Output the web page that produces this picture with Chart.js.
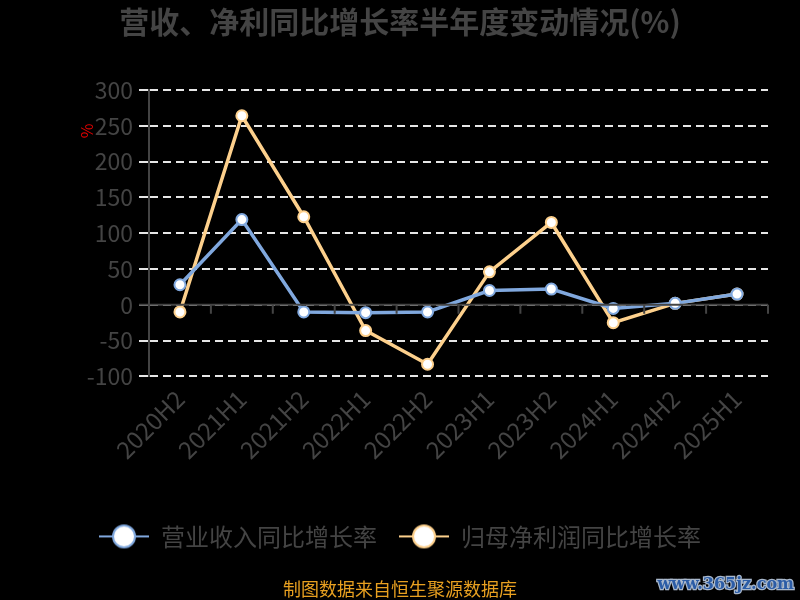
<!DOCTYPE html>
<html>
<head>
<meta charset="utf-8">
<script src="https://cdn.jsdelivr.net/npm/chart.js@4/dist/chart.umd.min.js"></script>
<style>
  html, body { margin: 0; padding: 0; background: #000; }
  #wrap { width: 800px; height: 600px; }
</style>
</head>
<body>
<div id="wrap"><canvas id="chart" width="800" height="600"></canvas></div>
<script>
// data
const periods = ['2020H2', '2021H1', '2021H2', '2022H1', '2022H2', '2023H1', '2023H2', '2024H1', '2024H2', '2025H1'];
const revenueGrowth = [28, 119, -10, -11, -10, 20, 22, -5, 2, 15];
const profitGrowth = [-10, 264, 123, -36, -83, 46, 115, -25, 2, 15];
const yTicks = [-100, -50, 0, 50, 100, 150, 200, 250, 300];

const BLUE = '#80a8de';
const ORANGE = '#fdd08c';
const GREY = '#444';
const FONT = '"Noto Sans CJK SC", "Noto Sans", sans-serif';

// legend marker: short line with a big hollow circle
function legendMarker(color) {
  const c = document.createElement('canvas');
  c.width = 50; c.height = 26;
  const g = c.getContext('2d');
  g.strokeStyle = color;
  g.lineWidth = 2;
  g.beginPath(); g.moveTo(0, 13); g.lineTo(50, 13); g.stroke();
  g.fillStyle = '#fff';
  g.beginPath(); g.arc(25, 13, 11, 0, Math.PI * 2); g.fill(); g.stroke();
  return c;
}
const markers = [legendMarker(BLUE), legendMarker(ORANGE)];

// zero line, its small ticks, the red % and the watermark
const extras = {
  id: 'extras',
  afterLayout(chart) {
    // title, legend and footer are centred on the whole page, not on the padded area
    chart.boxes.forEach(b => {
      if (b === chart.legend || (b.options && b.options.text !== undefined && !b.axis)) b.right += 32;
    });
  },
  afterDatasetsDraw(chart) {
    const { ctx, chartArea, scales } = chart;
    const y0 = scales.y.getPixelForValue(0);
    ctx.save();
    ctx.strokeStyle = GREY;
    ctx.lineWidth = 2;
    ctx.beginPath();
    ctx.moveTo(chartArea.left - 10, y0);
    ctx.lineTo(chartArea.right, y0);
    ctx.stroke();
    const step = (chartArea.right - chartArea.left) / periods.length;
    ctx.beginPath();
    for (let k = 1; k <= periods.length; k++) {
      const x = chartArea.left + k * step;
      ctx.moveTo(x, y0);
      ctx.lineTo(x, y0 + 9);
    }
    ctx.stroke();

    ctx.fillStyle = '#e00000';
    ctx.font = '16px ' + FONT;
    ctx.translate(87, 131);
    ctx.rotate(-Math.PI / 2);
    ctx.textAlign = 'center';
    ctx.textBaseline = 'middle';
    ctx.fillText('%', 0, 0);
    ctx.restore();

    ctx.save();
    ctx.font = 'bold 16px "DejaVu Serif", serif';
    ctx.textAlign = 'right';
    ctx.textBaseline = 'middle';
    ctx.lineWidth = 2.5;
    ctx.strokeStyle = '#a9b8cc';
    ctx.strokeText('www.365jz.com', 794, 585);
    ctx.fillStyle = '#2b5ca6';
    ctx.fillText('www.365jz.com', 794, 585);
    ctx.restore();
  }
};

new Chart(document.getElementById('chart'), {
  type: 'line',
  data: {
    labels: periods,
    datasets: [
      {
        label: '营业收入同比增长率',
        data: revenueGrowth,
        borderColor: BLUE,
        backgroundColor: '#fff',
        borderWidth: 3.5,
        pointRadius: 5.5,
        pointBorderWidth: 2,
        pointBackgroundColor: '#fff',
        pointBorderColor: BLUE,
        tension: 0
      },
      {
        label: '归母净利润同比增长率',
        data: profitGrowth,
        borderColor: ORANGE,
        backgroundColor: '#fff',
        borderWidth: 3.5,
        pointRadius: 5.5,
        pointBorderWidth: 2,
        pointBackgroundColor: '#fff',
        pointBorderColor: ORANGE,
        tension: 0
      }
    ]
  },
  options: {
    responsive: false,
    animation: false,
    layout: { padding: { left: 0, right: 32, top: 0, bottom: 0 } },
    plugins: {
      tooltip: { enabled: false },
      title: {
        display: true,
        text: '营收、净利同比增长率半年度变动情况(%)',
        color: GREY,
        font: { family: FONT, size: 30, weight: 'bold' },
        padding: { top: 4, bottom: 50 }
      },
      subtitle: {
        display: true,
        position: 'bottom',
        text: '制图数据来自恒生聚源数据库',
        color: '#e8a020',
        font: { family: FONT, size: 18 },
        padding: { top: 20, bottom: 0 }
      },
      legend: {
        position: 'bottom',
        labels: {
          usePointStyle: true,
          pointStyleWidth: 50,
          boxHeight: 24,
          padding: 22,
          color: GREY,
          font: { family: FONT, size: 24 },
          generateLabels(chart) {
            const items = Chart.defaults.plugins.legend.labels.generateLabels(chart);
            items.forEach((it, i) => { it.pointStyle = markers[i]; });
            return items;
          }
        }
      }
    },
    scales: {
      x: {
        offset: true,
        grid: { display: false },
        border: { display: false },
        ticks: {
          color: GREY,
          font: { family: FONT, size: 24 },
          minRotation: 45,
          maxRotation: 45,
          padding: 0
        },
        afterFit(scale) { scale.height = 126; }
      },
      y: {
        min: -100,
        max: 300,
        afterBuildTicks(scale) { scale.ticks = yTicks.map(v => ({ value: v })); },
        grid: {
          color: '#e6e6e6',
          lineWidth: 2,
          tickLength: 10,
          tickColor: '#e6e6e6'
        },
        border: { display: true, color: GREY, width: 2, dash: [8, 5] },
        ticks: {
          color: GREY,
          padding: 6,
          font: { family: FONT, size: 23 }
        },
        afterFit(scale) { scale.width = 149; }
      }
    }
  },
  plugins: [extras]
});
</script>
</body>
</html>
